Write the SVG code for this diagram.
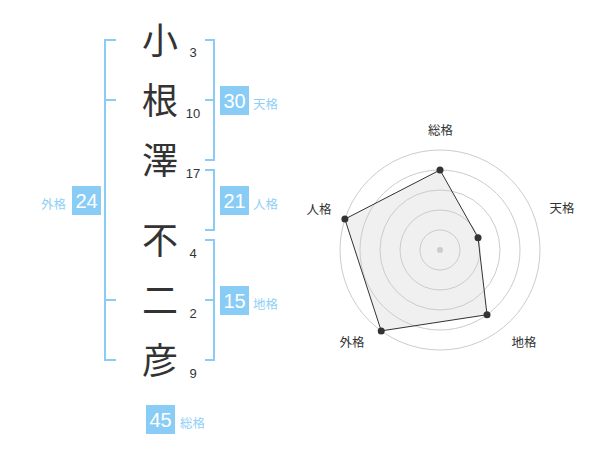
<svg xmlns="http://www.w3.org/2000/svg" width="600" height="470" viewBox="0 0 600 470">
<style>
.kanji{font-family:"Noto Sans CJK JP","Noto Sans CJK SC",sans-serif;font-size:36px;fill:#333;text-anchor:middle}
.stroke{font-family:"Liberation Sans","Noto Sans CJK JP",sans-serif;font-size:13px;fill:#333;text-anchor:middle}
.box{fill:#89cdf6}
.boxnum{font-family:"Liberation Sans","Noto Sans CJK JP",sans-serif;font-size:20px;fill:#fff;text-anchor:middle}
.lbl{font-family:"Noto Sans CJK JP","Noto Sans CJK SC",sans-serif;font-size:12.5px;fill:#8fd0f6}
.br{fill:none;stroke:#89cdf6;stroke-width:2}
.ring{fill:none;stroke:#cccccc;stroke-width:1}
.axl{font-family:"Noto Sans CJK JP","Noto Sans CJK SC",sans-serif;font-size:12.5px;fill:#333;text-anchor:middle}
.dot{fill:#333}
</style>
<g id="connectors">
<path class="br" d="M116,40 H105 V360 H116 M105,100 H116 M105,300 H116"/>
<path class="br" d="M205,40 H214 V160 H205 M205,100 H214"/>
<path class="br" d="M205,170 H214 V230 H205"/>
<path class="br" d="M205,240 H214 V360 H205 M205,300 H214"/>
</g>
<g id="name">
<text class="kanji" x="160" y="53.5">小</text>
<text class="kanji" x="160" y="113.5">根</text>
<text class="kanji" x="160" y="173.5">澤</text>
<text class="kanji" x="160" y="253.5">不</text>
<text class="kanji" x="160" y="313.5">二</text>
<text class="kanji" x="160" y="373.5">彦</text>
<text class="stroke" x="193" y="57">3</text>
<text class="stroke" x="193" y="117.5">10</text>
<text class="stroke" x="193" y="178">17</text>
<text class="stroke" x="193" y="257.5">4</text>
<text class="stroke" x="193" y="318">2</text>
<text class="stroke" x="193" y="378">9</text>
</g>
<g id="tenkaku">
<rect class="box" x="220" y="86" width="29" height="29"/>
<text class="boxnum" x="234.5" y="108">30</text>
<text class="lbl" x="253" y="108.5">天格</text>
</g>
<g id="jinkaku">
<rect class="box" x="220" y="186" width="29" height="29"/>
<text class="boxnum" x="234.5" y="208">21</text>
<text class="lbl" x="253" y="208.5">人格</text>
</g>
<g id="chikaku">
<rect class="box" x="220" y="286" width="29" height="29"/>
<text class="boxnum" x="234.5" y="308">15</text>
<text class="lbl" x="253" y="308.5">地格</text>
</g>
<g id="gaikaku">
<rect class="box" x="72" y="186" width="29" height="29"/>
<text class="boxnum" x="86.5" y="208">24</text>
<text class="lbl" x="66" y="208.5" text-anchor="end">外格</text>
</g>
<g id="soukaku">
<rect class="box" x="146" y="405" width="29" height="29"/>
<text class="boxnum" x="160.5" y="427">45</text>
<text class="lbl" x="180" y="427.5">総格</text>
</g>
<g id="radar">
<polygon points="440,170 478.04,237.64 487.02,314.72 381.22,330.9 344.89,219.1" fill="#f0f0f0"/>
<circle class="ring" cx="440" cy="250" r="20"/>
<circle class="ring" cx="440" cy="250" r="40"/>
<circle class="ring" cx="440" cy="250" r="60"/>
<circle class="ring" cx="440" cy="250" r="80"/>
<circle class="ring" cx="440" cy="250" r="100"/>
<circle cx="440" cy="250" r="3" fill="#cccccc"/>
<polygon points="440,170 478.04,237.64 487.02,314.72 381.22,330.9 344.89,219.1" fill="none" stroke="#333" stroke-width="1"/>
<circle class="dot" cx="440" cy="170" r="3.5"/>
<circle class="dot" cx="478.04" cy="237.64" r="3.5"/>
<circle class="dot" cx="487.02" cy="314.72" r="3.5"/>
<circle class="dot" cx="381.22" cy="330.9" r="3.5"/>
<circle class="dot" cx="344.89" cy="219.1" r="3.5"/>
<text class="axl" x="440.5" y="134.5">総格</text>
<text class="axl" x="562" y="213">天格</text>
<text class="axl" x="524" y="346.5">地格</text>
<text class="axl" x="352" y="346.5">外格</text>
<text class="axl" x="319" y="213.5">人格</text>
</g>
</svg>
